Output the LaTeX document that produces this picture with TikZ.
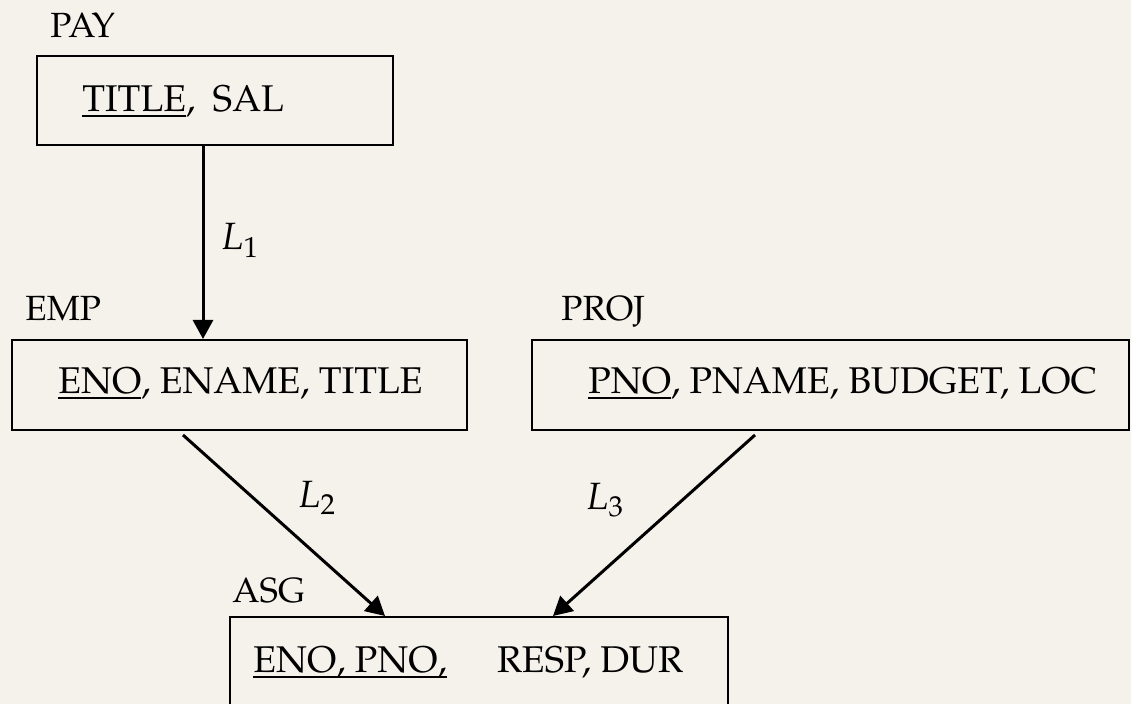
\documentclass[tikz,border=0pt]{standalone}
\usepackage[T1]{fontenc}
\usepackage{mathpazo}
\usepackage{tikz}
\usetikzlibrary{arrows.meta,calc}
\definecolor{parchment}{RGB}{245,242,236}
% key attributes: thick underline a little below the baseline
\newcommand{\keyattr}[1]{\setbox0\hbox{#1}\rlap{\rule[-2.6pt]{\wd0}{1.2pt}}\box0}

\begin{document}
\begin{tikzpicture}[x=0.5pt,y=-0.5pt,
                    relbox/.style={rectangle, draw=black, line width=1pt,
                    anchor=north west, inner sep=0pt},
                    relname/.style={anchor=base west, inner sep=0pt,
                    font=\fontsize{17.5}{20}\selectfont},
                    attrs/.style={anchor=base west, inner sep=0pt,
                    font=\fontsize{18.6}{22}\selectfont},
                    linklbl/.style={anchor=base west, inner sep=0pt,
                    font=\fontsize{19}{22}\selectfont},
                    fkarr/.style={-{Triangle[length=9.5pt,width=10pt]},
                    line width=1.5pt, draw=black}]

                    \useasboundingbox (0,0) rectangle (1131,704);
                    \clip (0,0) rectangle (1131,704);
                    \fill[parchment] (0,0) rectangle (1131,704);

                    % relations
                    \node[relbox, minimum width=178pt, minimum height=44.5pt] (pay) at (36,55) {};
                    \node[relname] (payname) at (50,38) {PAY};
                    \node[attrs] (payattr) at ($(pay.north west)+(46,57)$) {\keyattr{TITLE},\hspace{0.22em} SAL};

                    \node[relbox, minimum width=227.5pt, minimum height=45pt] (emp) at (11,339) {};
                    \node[relname] (empname) at (25,321) {EMP};
                    \node[attrs] (empattr) at ($(emp.north west)+(47,55)$) {\keyattr{ENO}, ENAME, TITLE};

                    \node[relbox, minimum width=298.5pt, minimum height=45pt] (proj) at (531,339) {};
                    \node[relname] (projname) at (561,321) {PROJ};
                    \node[attrs] (projattr) at ($(proj.north west)+(57,55)$) {\keyattr{PNO}, PNAME, BUDGET, LOC};

                    \node[relbox, minimum width=249pt, minimum height=55pt] (asg) at (229,616) {};
                    \node[relname] (asgname) at (232,603) {ASG};
                    \node[attrs] (asgattr) at ($(asg.north west)+(24,57)$) {\keyattr{ENO, PNO,}\hspace{1.35em}RESP, DUR};

                    % links
                    \coordinate (l1x) at (203,0);
                    \coordinate (l2s) at (183,435);
                    \coordinate (l3s) at (755,435);
                    \draw[fkarr] (pay.south -| l1x) -- (emp.north -| l1x);
                    \draw[fkarr] (l2s) -- ($(asg.north west)+(156,0)$);
                    \draw[fkarr] (l3s) -- ($(asg.north west)+(324,0)$);
                    \node[linklbl] (l1) at (220,250) {$L_1$};
                    \node[linklbl] (l2) at (297,508) {$L_2$};
                    \node[linklbl] (l3) at (585,510) {$L_3$};
\end{tikzpicture}
\end{document}
